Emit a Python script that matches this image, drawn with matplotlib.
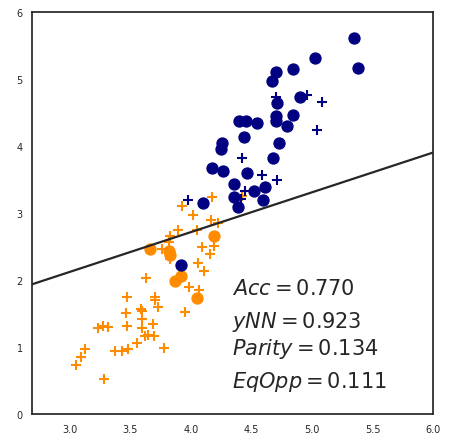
import matplotlib
matplotlib.use("Agg")
import matplotlib.pyplot as plt
import numpy as np

# group A (navy), predicted positive -> circles, others -> crosses
navy_dot_x = [5.345, 5.376, 5.023, 4.839, 4.701, 4.666, 4.899, 4.707, 4.701, 4.701,
              4.846, 4.789, 4.542, 4.398, 4.456, 4.439, 4.728, 4.679, 4.258, 4.245,
              4.170, 4.268, 4.466, 4.357, 4.612, 4.524, 4.354, 4.591, 4.387, 4.101,
              3.919]
navy_dot_y = [5.608, 5.160, 5.309, 5.145, 5.101, 4.962, 4.732, 4.634, 4.452, 4.377,
              4.459, 4.303, 4.340, 4.370, 4.370, 4.131, 4.042, 3.818, 4.042, 3.952,
              3.666, 3.624, 3.594, 3.427, 3.381, 3.321, 3.232, 3.196, 3.083, 3.147,
              2.218]
navy_plus_x = [4.701, 4.957, 5.081, 5.037, 4.422, 4.585, 4.707, 4.443, 4.416, 3.972]
navy_plus_y = [4.728, 4.758, 4.661, 4.236, 3.815, 3.569, 3.494, 3.326, 3.207, 3.187]

# group B (orange)
orange_dot_x = [4.189, 3.665, 3.818, 3.826, 3.921, 3.867, 4.049]
orange_dot_y = [2.655, 2.461, 2.431, 2.371, 2.058, 1.984, 1.730]
orange_plus_x = [4.424, 4.511, 4.173, 3.929, 4.018, 4.168, 4.225, 4.046, 3.894, 3.826,
                 3.820, 3.760, 3.826, 4.094, 4.193, 4.153, 4.059, 4.107, 3.628, 3.987,
                 4.068, 3.954, 3.473, 3.706, 3.700, 3.724, 3.467, 3.590, 3.598, 3.599,
                 3.468, 3.688, 3.595, 3.235, 3.277, 3.314, 3.647, 3.694, 3.623, 3.553,
                 3.479, 3.429, 3.373, 3.779, 3.126, 3.093, 3.052, 3.278]
orange_plus_y = [3.256, 3.330, 3.244, 3.107, 2.968, 2.896, 2.853, 2.744, 2.752, 2.659,
                 2.561, 2.461, 2.312, 2.486, 2.510, 2.386, 2.258, 2.137, 2.028, 1.897,
                 1.854, 1.521, 1.741, 1.745, 1.710, 1.603, 1.511, 1.572, 1.536, 1.421,
                 1.323, 1.350, 1.289, 1.289, 1.323, 1.308, 1.186, 1.163, 1.163, 1.059,
                 0.977, 0.944, 0.944, 0.981, 0.980, 0.853, 0.728, 0.526]

# decision boundary y = w*x + b
w, b = 0.593, 0.344

metric_names = ["Acc", "yNN", "Parity", "EqOpp"]
metric_vals = [0.770, 0.923, 0.134, 0.111]
metric_y = [1.8, 1.3, 0.9, 0.4]

x_lim = (2.69, 6.0)
y_lim = (0, 6)

plt.rcParams["axes.edgecolor"] = "#262626"
plt.rcParams["axes.linewidth"] = 1.25

fig = plt.figure(figsize=(4.56, 4.39), dpi=100)
ax = fig.add_axes([0.071, 0.054, 0.879, 0.917])

ax.scatter(orange_plus_x, orange_plus_y, marker="+", s=55, linewidths=1.5,
           color="darkorange")
ax.scatter(orange_dot_x, orange_dot_y, marker="o", s=62, color="darkorange")
ax.scatter(navy_plus_x, navy_plus_y, marker="+", s=55, linewidths=1.5,
           color="navy")
ax.scatter(navy_dot_x, navy_dot_y, marker="o", s=62, color="navy")

xs = np.array(x_lim)
ax.plot(xs, w * xs + b, color="#262626", lw=1.6)

for name, val, yy in zip(metric_names, metric_vals, metric_y):
    ax.text(4.34, yy, r"$%s = %.3f$" % (name, val), fontsize=15,
            color="#262626", va="baseline")

ax.set_xlim(*x_lim)
ax.set_ylim(*y_lim)
ax.set_xticks([3.0, 3.5, 4.0, 4.5, 5.0, 5.5, 6.0])
ax.set_yticks(range(0, 7))
ax.tick_params(length=0, labelsize=7, labelcolor="#262626", pad=7)

fig.savefig("out.png", dpi=100)
